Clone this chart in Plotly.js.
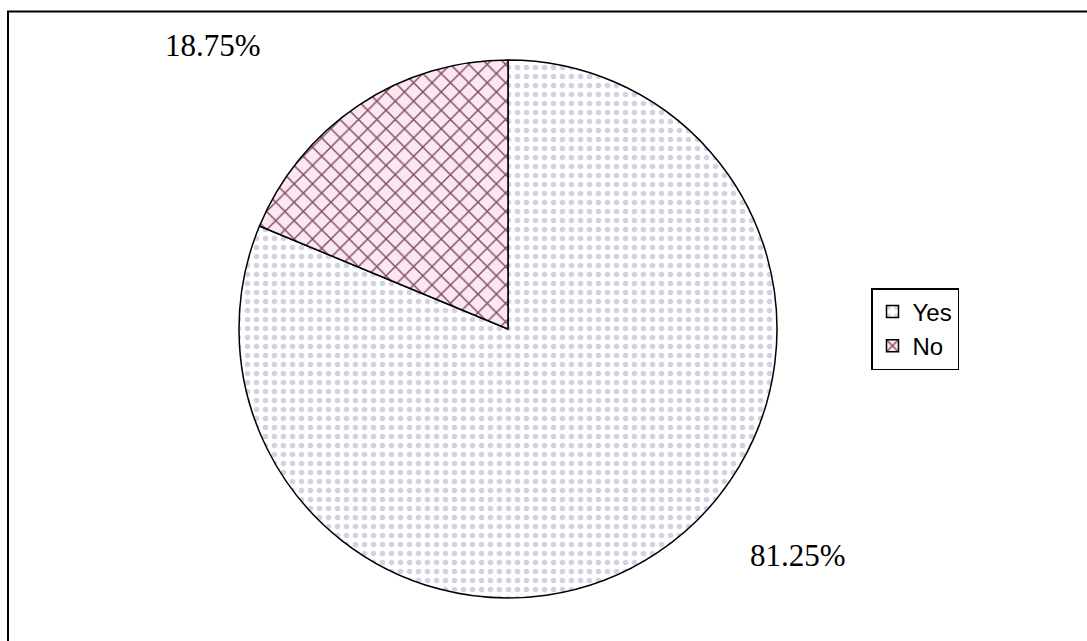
<!DOCTYPE html>
<html>
<head>
<meta charset="utf-8">
<script src="https://cdn.plot.ly/plotly-3.0.1.min.js"></script>
<style>html,body{margin:0;padding:0;background:#fff;}#chart{width:1087px;height:641px;}</style>
</head>
<body>
<div id="chart"></div>
<script>
const categories = ["Yes", "No"];
const values = [81.25, 18.75];
const labelPositions = [[798, 555], [213, 45]];

const W = 1087, H = 641;
const cx = 508, cy = 329, r = 269;

const trace = {
  type: "pie",
  labels: categories,
  values: values,
  sort: false,
  direction: "clockwise",
  rotation: 0,
  textinfo: "none",
  hoverinfo: "label+percent",
  domain: {
    x: [(cx - r) / W, (cx + r) / W],
    y: [(H - cy - r) / H, (H - cy + r) / H]
  },
  marker: {
    colors: ["#ffffff", "#fce6f1"],
    line: {color: "#000000", width: 1.5},
    pattern: {
      shape: [".", "x"],
      fgcolor: ["#d2d2e4", "#7a4a60"],
      bgcolor: ["#ffffff", "#fce6f1"],
      size: [9, 13],
      solidity: [0.3, 0.2]
    }
  }
};

const total = values.reduce((a, b) => a + b, 0);
const annotations = categories.map((c, i) => ({
  text: (values[i] / total * 100).toFixed(2) + "%",
  xref: "paper", yref: "paper",
  x: labelPositions[i][0] / W,
  y: 1 - labelPositions[i][1] / H,
  xanchor: "center", yanchor: "middle",
  showarrow: false,
  font: {family: "Liberation Serif, Times New Roman, serif", size: 31, color: "#000"}
}));

const layout = {
  width: W, height: H,
  margin: {l: 0, r: 0, t: 0, b: 0},
  paper_bgcolor: "#ffffff",
  plot_bgcolor: "#ffffff",
  showlegend: true,
  legend: {
    x: 871 / W, y: 1 - 288 / H,
    xanchor: "left", yanchor: "top",
    bordercolor: "#000000", borderwidth: 1.5,
    bgcolor: "#ffffff",
    font: {family: "Liberation Sans, Arial, sans-serif", size: 24, color: "#000"},
    itemwidth: 30,
    tracegroupgap: 0
  },
  annotations: annotations,
  shapes: [{
    type: "rect", xref: "paper", yref: "paper",
    x0: 8 / W, x1: 1.05, y0: -0.05, y1: 1 - 11.5 / H,
    line: {color: "#000000", width: 2}
  }]
};

Plotly.newPlot("chart", [trace], layout, {displayModeBar: false, staticPlot: true});
</script>
</body>
</html>
